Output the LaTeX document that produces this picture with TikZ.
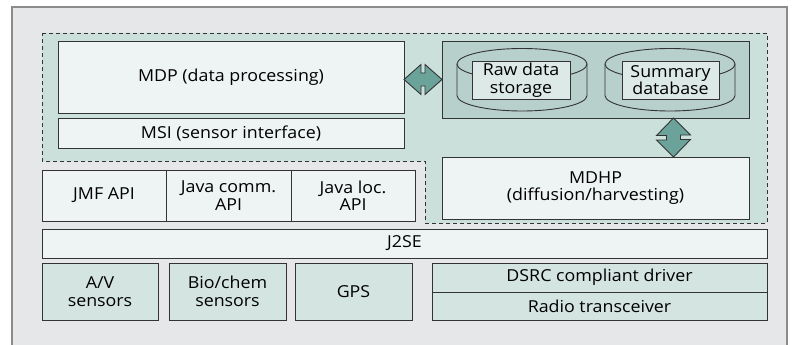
\documentclass[tikz,border=0pt]{standalone}
\usepackage{fontspec}
\setmainfont{Open Sans}[FakeStretch=1.08]
\usetikzlibrary{calc}

\definecolor{framefill}{HTML}{E6E7E8}
\definecolor{framedraw}{HTML}{8A8B8D}
\definecolor{zonefill}{HTML}{CBDFDB}
\definecolor{storefill}{HTML}{B7D0CB}
\definecolor{lightfill}{HTML}{EEF3F3}
\definecolor{labelfill}{HTML}{DCE9E6}
\definecolor{hwfill}{HTML}{D4E4E0}
\definecolor{arrowfill}{HTML}{6BA39A}
\definecolor{ink}{HTML}{333333}

\tikzset{
  blk/.style={draw=ink, line width=0.9pt, inner sep=0pt, outer sep=0pt,
    anchor=north west, align=center, font=\fontsize{16.5}{17.5}\selectfont},
  swbox/.style={blk, fill=lightfill},
  hwbox/.style={blk, fill=hwfill},
  dbbox/.style={blk, fill=labelfill},
  cyl/.style={draw=ink, line width=0.9pt, fill=storefill},
  dblarrow/.style={draw=ink, line width=0.9pt, fill=arrowfill, line join=miter},
  zone/.style={draw=ink, line width=0.9pt, dash pattern=on 4pt off 3pt, fill=zonefill},
}

\begin{document}
\begin{tikzpicture}[x=1pt, y=-1pt]
\useasboundingbox (0,0) rectangle (798,345);

% outer frame
\draw[draw=framedraw, line width=1.2pt, fill=framefill] (12,7) rectangle (787,360);

% dashed middleware zone
\draw[zone] (42,33) -- (767,33) -- (767,223) -- (425,223) -- (425,161) -- (42,161) -- cycle;

% processing and interface layers
\node[swbox, minimum width=346pt, minimum height=72pt] (mdp) at (58,41) {MDP (data processing)};
\node[swbox, minimum width=346pt, minimum height=30pt] (msi) at (58,118) {MSI (sensor interface)};

% storage block with two cylinders
\node[blk, fill=storefill, minimum width=307pt, minimum height=77pt] (store) at (442,41) {};

\foreach \cx in {522,670}{
  \draw[cyl] (\cx-65,64) -- (\cx-65,95.5) arc[start angle=180, end angle=360, x radius=65pt, y radius=15.5pt]
    -- (\cx+65,64);
  \draw[cyl] (\cx,64) ellipse[x radius=65pt, y radius=15.5pt];
}
\node[dbbox, minimum width=98pt, minimum height=38pt] (raw) at (472,61) {Raw data\\storage};
\node[dbbox, minimum width=97pt, minimum height=38pt] (summ) at (622,61) {Summary\\database};

% diffusion/harvesting layer
\node[swbox, minimum width=307pt, minimum height=62pt] (mdhp) at (442,157) {MDHP\\(diffusion/harvesting)};

% Java APIs
\node[swbox, minimum width=124pt, minimum height=51pt] (jmf) at (42,170) {JMF API};
\node[swbox, minimum width=125pt, minimum height=51pt] (jcomm) at (166,170) {Java comm.\\API};
\node[swbox, minimum width=124pt, minimum height=51pt] (jloc) at (291,170) {Java loc.\\API};

% runtime
\node[swbox, minimum width=725pt, minimum height=29pt] (j2se) at (42,229) {J2SE};

% hardware
\node[hwbox, minimum width=116pt, minimum height=57pt] (av) at (42,263) {A/V\\sensors};
\node[hwbox, minimum width=117pt, minimum height=57pt] (bio) at (169,263) {Bio/chem\\sensors};
\node[hwbox, minimum width=117pt, minimum height=57pt] (gps) at (295,263) {GPS};
\node[hwbox, minimum width=335pt, minimum height=29pt] (dsrc) at (432,263) {DSRC compliant driver};
\node[hwbox, minimum width=335pt, minimum height=28pt] (radio) at (432,292) {Radio transceiver};

% double arrow between MDP and storage
\draw[dblarrow] (store.west) -- ++(-17,-15) -- ++(0,8.5) -- ++(-4,0) -- ++(0,-8.5)
  -- (mdp.east |- store.west) -- ++(17,15) -- ++(0,-8.5) -- ++(4,0) -- ++(0,8.5) -- cycle;

% double arrow between storage and MDHP
\coordinate (vt) at (673.5,118);
\draw[dblarrow] (vt) -- ++(17,17) -- ++(-10,0) -- ++(0,4.5) -- ++(10,0)
  -- (vt |- mdhp.north) -- ++(-17,-17) -- ++(10,0) -- ++(0,-4.5) -- ++(-10,0) -- cycle;
\end{tikzpicture}
\end{document}
